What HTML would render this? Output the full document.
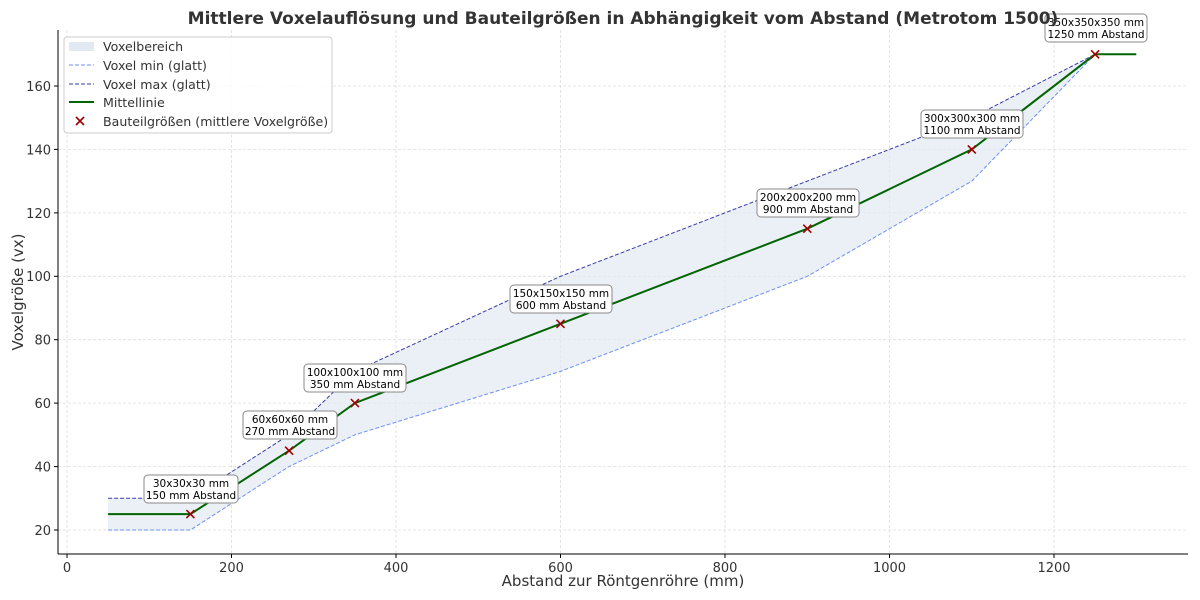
<!DOCTYPE html>
<html><head><meta charset="utf-8"><style>body{margin:0;background:#fff}svg{display:block;font-family:"DejaVu Sans","Liberation Sans",sans-serif}</style></head><body>
<svg width="1200" height="600" viewBox="0 0 1200 600">
<rect width="1200" height="600" fill="#fff"/>
<g stroke="#ddd" stroke-width="0.8" stroke-dasharray="3,2">
<line x1="67" y1="30" x2="67" y2="554"/><line x1="231.5" y1="30" x2="231.5" y2="554"/><line x1="396" y1="30" x2="396" y2="554"/><line x1="560.5" y1="30" x2="560.5" y2="554"/><line x1="725" y1="30" x2="725" y2="554"/><line x1="889.5" y1="30" x2="889.5" y2="554"/><line x1="1054" y1="30" x2="1054" y2="554"/>
<line x1="58" y1="530" x2="1188" y2="530"/><line x1="58" y1="466.6" x2="1188" y2="466.6"/><line x1="58" y1="403.1" x2="1188" y2="403.1"/><line x1="58" y1="339.7" x2="1188" y2="339.7"/><line x1="58" y1="276.3" x2="1188" y2="276.3"/><line x1="58" y1="212.9" x2="1188" y2="212.9"/><line x1="58" y1="149.4" x2="1188" y2="149.4"/><line x1="58" y1="86" x2="1188" y2="86"/>
</g>
<polygon fill="#e3e9f3" fill-opacity="0.7" points="108.1,498.3 190.4,498.3 289.1,434.8 354.9,371.4 560.5,276.3 807.3,181.1 971.8,117.7 1095.1,54.3 971.8,181.1 807.3,276.3 560.5,371.4 354.9,434.8 289.1,466.5 190.4,530 108.1,530"/>
<polyline fill="none" stroke="#6d8ff0" stroke-width="1" stroke-dasharray="4,2" points="108.1,530 190.4,530 289.1,466.5 354.9,434.8 560.5,371.4 807.3,276.3 971.8,181.1 1095.1,54.3"/>
<polyline fill="none" stroke="#3a3aa8" stroke-width="1" stroke-dasharray="4,2" points="108.1,498.3 190.4,498.3 289.1,434.8 354.9,371.4 560.5,276.3 807.3,181.1 971.8,117.7 1095.1,54.3"/>
<polyline fill="none" stroke="#006400" stroke-width="2" points="108.1,514.1 190.4,514.1 289.1,450.7 354.9,403.1 560.5,323.8 807.3,228.7 971.8,149.4 1095.1,54.3 1136.3,54.3"/>
<g stroke="#a00000" stroke-width="1.6">
<path d="M186.4,510.1l8,8m0,-8l-8,8"/><path d="M285.1,446.7l8,8m0,-8l-8,8"/><path d="M350.9,399.1l8,8m0,-8l-8,8"/><path d="M556.5,319.8l8,8m0,-8l-8,8"/><path d="M803.3,224.7l8,8m0,-8l-8,8"/><path d="M967.8,145.4l8,8m0,-8l-8,8"/><path d="M1091.1,50.3l8,8m0,-8l-8,8"/>
</g>
<g font-size="10.5" text-anchor="middle" fill="#000">
<rect x="144" y="475" width="94" height="28" rx="4" fill="#fff" stroke="#888"/><text x="191" y="487">30x30x30 mm</text><text x="191" y="499">150 mm Abstand</text>
<rect x="243" y="411" width="94" height="28" rx="4" fill="#fff" stroke="#888"/><text x="290" y="423">60x60x60 mm</text><text x="290" y="435">270 mm Abstand</text>
<rect x="304" y="364" width="102" height="28" rx="4" fill="#fff" stroke="#888"/><text x="355" y="376">100x100x100 mm</text><text x="355" y="388">350 mm Abstand</text>
<rect x="510" y="285" width="102" height="28" rx="4" fill="#fff" stroke="#888"/><text x="561" y="297">150x150x150 mm</text><text x="561" y="309">600 mm Abstand</text>
<rect x="757" y="189" width="102" height="28" rx="4" fill="#fff" stroke="#888"/><text x="808" y="201">200x200x200 mm</text><text x="808" y="213">900 mm Abstand</text>
<rect x="921" y="110" width="102" height="28" rx="4" fill="#fff" stroke="#888"/><text x="972" y="122">300x300x300 mm</text><text x="972" y="134">1100 mm Abstand</text>
<rect x="1045" y="14" width="102" height="28" rx="4" fill="#fff" stroke="#888"/><text x="1096" y="26">350x350x350 mm</text><text x="1096" y="38">1250 mm Abstand</text>
</g>
<g stroke="#000" stroke-width="1"><line x1="58" y1="30" x2="58" y2="554"/><line x1="58" y1="554" x2="1188" y2="554"/></g>
<g stroke="#000"><line x1="67" y1="554" x2="67" y2="558"/><line x1="231.5" y1="554" x2="231.5" y2="558"/><line x1="396" y1="554" x2="396" y2="558"/><line x1="560.5" y1="554" x2="560.5" y2="558"/><line x1="725" y1="554" x2="725" y2="558"/><line x1="889.5" y1="554" x2="889.5" y2="558"/><line x1="1054" y1="554" x2="1054" y2="558"/>
<line x1="54" y1="530" x2="58" y2="530"/><line x1="54" y1="466.6" x2="58" y2="466.6"/><line x1="54" y1="403.1" x2="58" y2="403.1"/><line x1="54" y1="339.7" x2="58" y2="339.7"/><line x1="54" y1="276.3" x2="58" y2="276.3"/><line x1="54" y1="212.9" x2="58" y2="212.9"/><line x1="54" y1="149.4" x2="58" y2="149.4"/><line x1="54" y1="86" x2="58" y2="86"/></g>
<g font-size="13" fill="#333" text-anchor="middle"><text x="67" y="572">0</text><text x="231.5" y="572">200</text><text x="396" y="572">400</text><text x="560.5" y="572">600</text><text x="725" y="572">800</text><text x="889.5" y="572">1000</text><text x="1054" y="572">1200</text></g>
<g font-size="13" fill="#333" text-anchor="end"><text x="51" y="535">20</text><text x="51" y="471.5">40</text><text x="51" y="408">60</text><text x="51" y="344.5">80</text><text x="51" y="281">100</text><text x="51" y="218">120</text><text x="51" y="154.5">140</text><text x="51" y="91">160</text></g>
<text x="623" y="586" font-size="15" fill="#333" text-anchor="middle">Abstand zur Röntgenröhre (mm)</text>
<text transform="translate(23,292) rotate(-90)" font-size="15" fill="#333" text-anchor="middle">Voxelgröße (vx)</text>
<text x="623" y="24" font-size="17" font-weight="bold" fill="#333" text-anchor="middle">Mittlere Voxelauflösung und Bauteilgrößen in Abhängigkeit vom Abstand (Metrotom 1500)</text>
<rect x="64" y="37" width="268" height="96" rx="3" fill="#fff" fill-opacity="0.85" stroke="#ccc"/>
<rect x="69" y="42" width="25" height="9" fill="#e3e9f3"/>
<line x1="69" y1="65" x2="94" y2="65" stroke="#6d8ff0" stroke-dasharray="4,2"/>
<line x1="69" y1="84" x2="94" y2="84" stroke="#3a3aa8" stroke-dasharray="4,2"/>
<line x1="69" y1="102" x2="94" y2="102" stroke="#006400" stroke-width="2"/>
<path d="M76,117l8,8m0,-8l-8,8" stroke="#a00000" stroke-width="1.6"/>
<g font-size="12.6" fill="#333"><text x="103" y="51">Voxelbereich</text><text x="103" y="70">Voxel min (glatt)</text><text x="103" y="89">Voxel max (glatt)</text><text x="103" y="107">Mittellinie</text><text x="103" y="126">Bauteilgrößen (mittlere Voxelgröße)</text></g>
</svg>
</body></html>
